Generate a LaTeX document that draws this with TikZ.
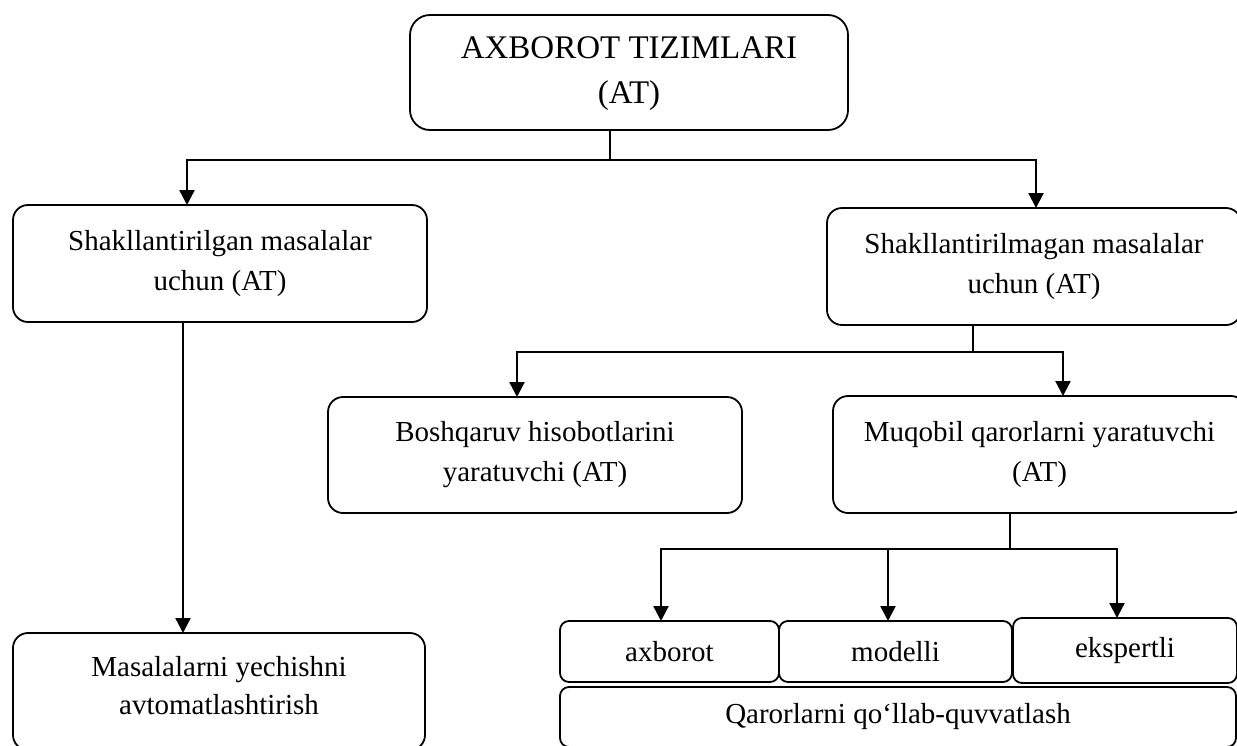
\documentclass[tikz,border=0pt]{standalone}
\usepackage{fontspec}
\setmainfont{Liberation Serif}
\usetikzlibrary{arrows.meta}
\begin{document}
\begin{tikzpicture}[x=1pt,y=-1pt,
  box/.style={draw, line width=1.8pt, rounded corners=15pt, align=center,
    inner sep=0pt, outer sep=0pt, anchor=north west,
    font=\fontsize{29}{40}\selectfont},
  small/.style={box, rounded corners=9pt},
  stub/.style={line width=1.2pt},
  arr/.style={line width=2.3pt, -{Triangle[length=15pt,width=15pt]}}]
\clip (0,0) rectangle (1237,745);

% boxes
\node[box, rounded corners=20pt, minimum width=438pt, minimum height=115pt,
  text depth=4pt, font=\fontsize{33}{45}\selectfont] (top) at (410,15)
  {AXBOROT TIZIMLARI\\(AT)};
\node[box, minimum width=414pt, minimum height=117pt] (left) at (13,205)
  {Shakllantirilgan masalalar\\uchun (AT)};
\node[box, minimum width=414pt, minimum height=117pt] (right) at (827,208)
  {Shakllantirilmagan masalalar\\uchun (AT)};
\node[box, minimum width=414pt, minimum height=116pt] (bosh) at (328,397)
  {Boshqaruv hisobotlarini\\yaratuvchi (AT)};
\node[box, minimum width=413pt, minimum height=117pt] (muq) at (833,396)
  {Muqobil qarorlarni yaratuvchi\\(AT)};
\node[box, minimum width=412pt, minimum height=117pt, text depth=12pt,
  font=\fontsize{29}{38}\selectfont] (solve) at (13,633)
  {Masalalarni yechishni\\avtomatlashtirish};
\node[small, minimum width=219pt, minimum height=61pt] (ax) at (560,621) {axborot};
\node[small, minimum width=233pt, minimum height=61pt] (mod) at (779,621) {modelli};
\node[small, minimum width=224pt, minimum height=65pt] (eks) at (1013,618) {ekspertli};
\node[small, minimum width=676pt, minimum height=60pt] (qar) at (560,687)
  {Qarorlarni qo‘llab-quvvatlash};

% junction points and arrow columns
\coordinate (h0) at (610,160);
\coordinate (aL) at (187,160);
\coordinate (aR) at (1036,160);
\coordinate (v1) at (183,0);
\coordinate (h1) at (973,352);
\coordinate (b1) at (517,352);
\coordinate (b2) at (1063,352);
\coordinate (h2) at (1010,549);
\coordinate (c1) at (661,549);
\coordinate (c2) at (888,549);
\coordinate (c3) at (1117,549);

% connectors
\draw[stub] (top.south -| h0) -- (h0);
\draw[arr] (h0) -- (aL) -- (aL |- left.north);
\draw[arr] (h0) -- (aR) -- (aR |- right.north);
\draw[arr] (left.south -| v1) -- (solve.north -| v1);
\draw[stub] (right.south -| h1) -- (h1);
\draw[arr] (h1) -- (b1) -- (b1 |- bosh.north);
\draw[arr] (h1) -- (b2) -- (b2 |- muq.north);
\draw[stub] (muq.south -| h2) -- (h2);
\draw[arr] (h2) -- (c1) -- (c1 |- ax.north);
\draw[arr] (c2) -- (c2 |- mod.north);
\draw[arr] (h2) -- (c3) -- (c3 |- eks.north);
\end{tikzpicture}
\end{document}
